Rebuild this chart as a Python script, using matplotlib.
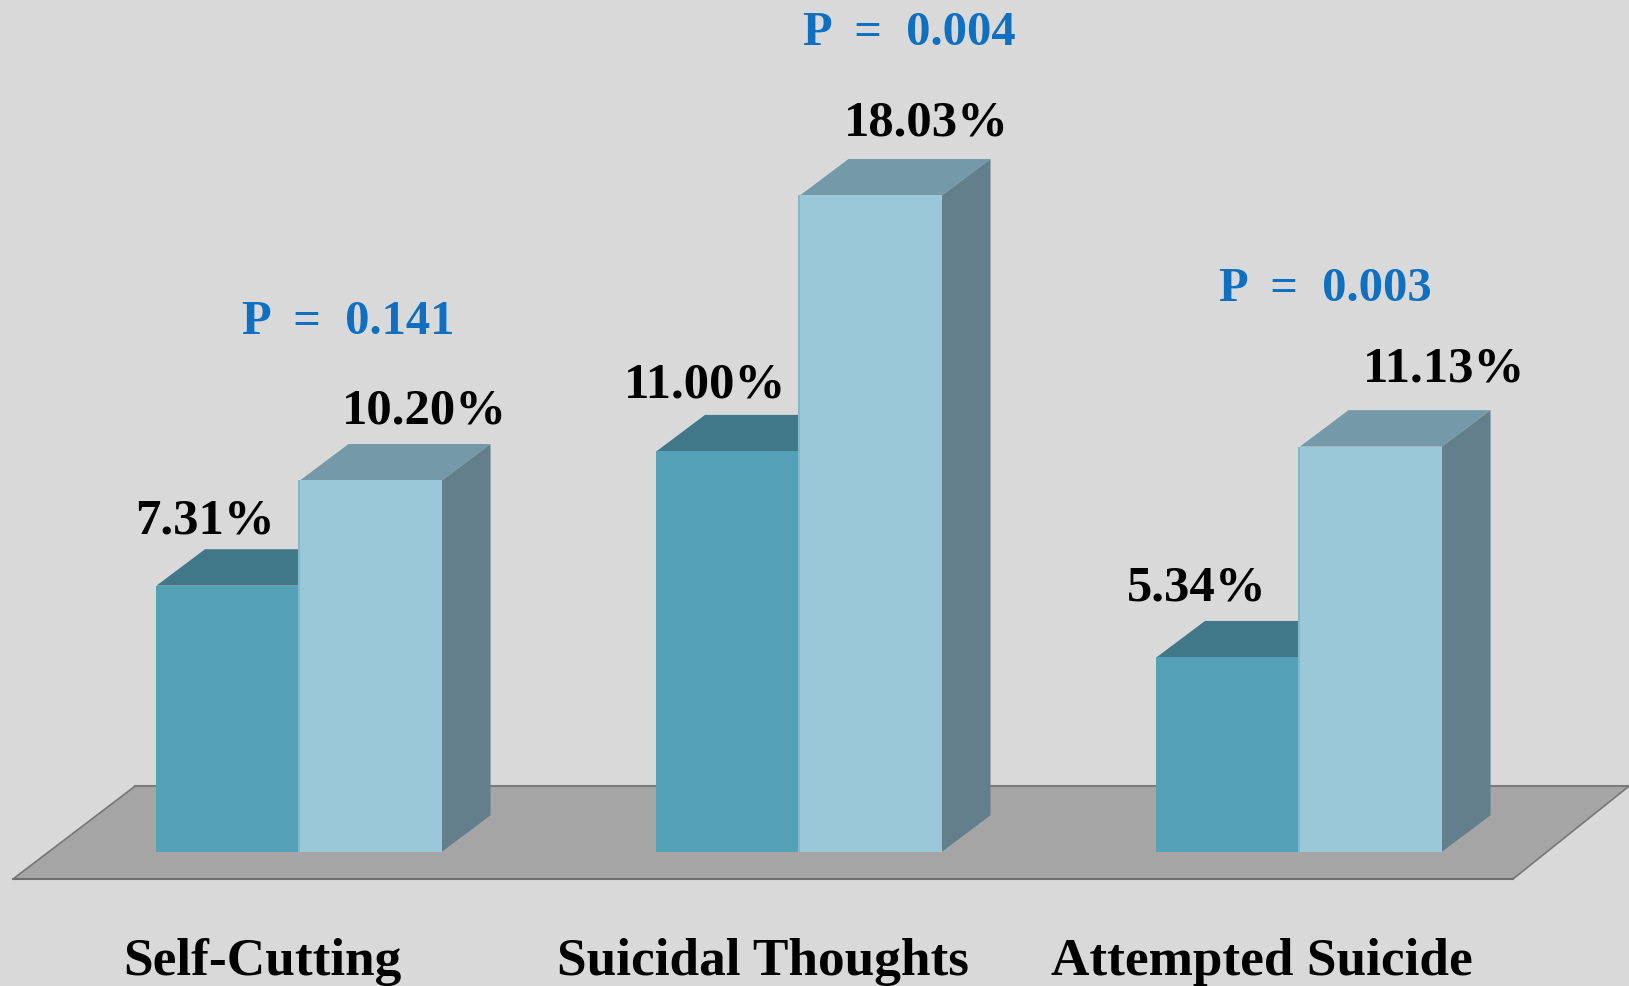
import matplotlib
matplotlib.use("Agg")
import matplotlib.pyplot as plt
from matplotlib.patches import Polygon

categories = ["Self-Cutting", "Suicidal Thoughts", "Attempted Suicide"]
dark_values = [7.31, 11.00, 5.34]
light_values = [10.20, 18.03, 11.13]
dark_labels = ["7.31%", "11.00%", "5.34%"]
light_labels = ["10.20%", "18.03%", "11.13%"]
p_labels = ["P = 0.141", "P = 0.004", "P = 0.003"]

plt.rcParams['font.family'] = ['Liberation Serif', 'DejaVu Serif']

BG = '#d9d9d9'
PX = 36.4  # px per percent
dark_w = 143.5
light_w = 142
depth_x = 48.5
depth_y = 1.0
mid_x = [300, 800, 1300]

# label placement, in px from the bar
dark_dx = [-95, -95, -103]
dark_dy = [52, 54, 57]
light_dx = [124, 126.5, 144]
light_dy = [57, 60, 65]
p_dx = [48, 109, 25]
p_dy = [146, 150, 146]
cat_x = [262, 763, 1262]

fig = plt.figure(figsize=(16.29, 9.86), dpi=100, facecolor=BG)
ax = fig.add_axes([0, 0, 1, 1])
ax.set_facecolor(BG)
ax.set_xlim(0, 1629)
# baseline at y=851.7 px
ax.set_ylim(-134.3 / PX, 851.7 / PX)
ax.axis('off')

# floor
ax.add_patch(Polygon([(13, -0.75), (1513, -0.75), (1629, 1.8), (135, 1.8)],
                     closed=True, fc='#a5a5a5', ec='none', zorder=1))
ax.plot([13, 1513], [-0.75, -0.75], color='#6e6e6e', lw=1.5, zorder=1.5)
ax.plot([135, 1629], [1.8, 1.8], color='#7a7a7a', lw=1.5, zorder=1.5)
ax.plot([13, 135], [-0.75, 1.8], color='#777777', lw=1.2, zorder=1.5)
ax.plot([1513, 1629], [-0.75, 1.8], color='#777777', lw=1.2, zorder=1.5)


def top_face(x, w, v, color, z):
    ax.add_patch(Polygon([(x, v), (x + w, v), (x + w + depth_x, v + depth_y), (x + depth_x, v + depth_y)],
                         closed=True, fc=color, ec='none', zorder=z))


for i, mid in enumerate(mid_x):
    d = dark_values[i]
    l = light_values[i]
    left = mid - dark_w
    right = mid + light_w

    top_face(left, dark_w, d, '#417888', 2)
    ax.bar(left, d, width=dark_w, align='edge', color='#54a0b7', zorder=3)

    top_face(mid, light_w, l, '#7499a9', 4)
    ax.add_patch(Polygon([(right, 0), (right + depth_x, depth_y),
                          (right + depth_x, l + depth_y), (right, l)],
                         closed=True, fc='#627f8b', ec='none', zorder=4))
    ax.bar(mid, l, width=light_w, align='edge', color='#9ac8d9', zorder=5)
    ax.plot([mid - 1, mid - 1], [0, l], color='#82b9ca', lw=1.5, zorder=6, solid_capstyle='butt')

    ax.text(mid + dark_dx[i], d + dark_dy[i] / PX, dark_labels[i], ha='center', va='baseline',
            fontsize=36.5, fontweight='bold', color='black', zorder=7)
    ax.text(mid + light_dx[i], l + light_dy[i] / PX, light_labels[i], ha='center', va='baseline',
            fontsize=36.5, fontweight='bold', color='black', zorder=7)
    ax.text(mid + p_dx[i], l + p_dy[i] / PX, p_labels[i].replace(' ', '  '), ha='center', va='baseline',
            fontsize=35, fontweight='bold', color='#0f6fc0', zorder=7)
    ax.text(cat_x[i], -123 / PX, categories[i], ha='center', va='baseline',
            fontsize=38.3, fontweight='bold', color='black', zorder=7)

fig.savefig('out.png', dpi=100, facecolor=BG)
